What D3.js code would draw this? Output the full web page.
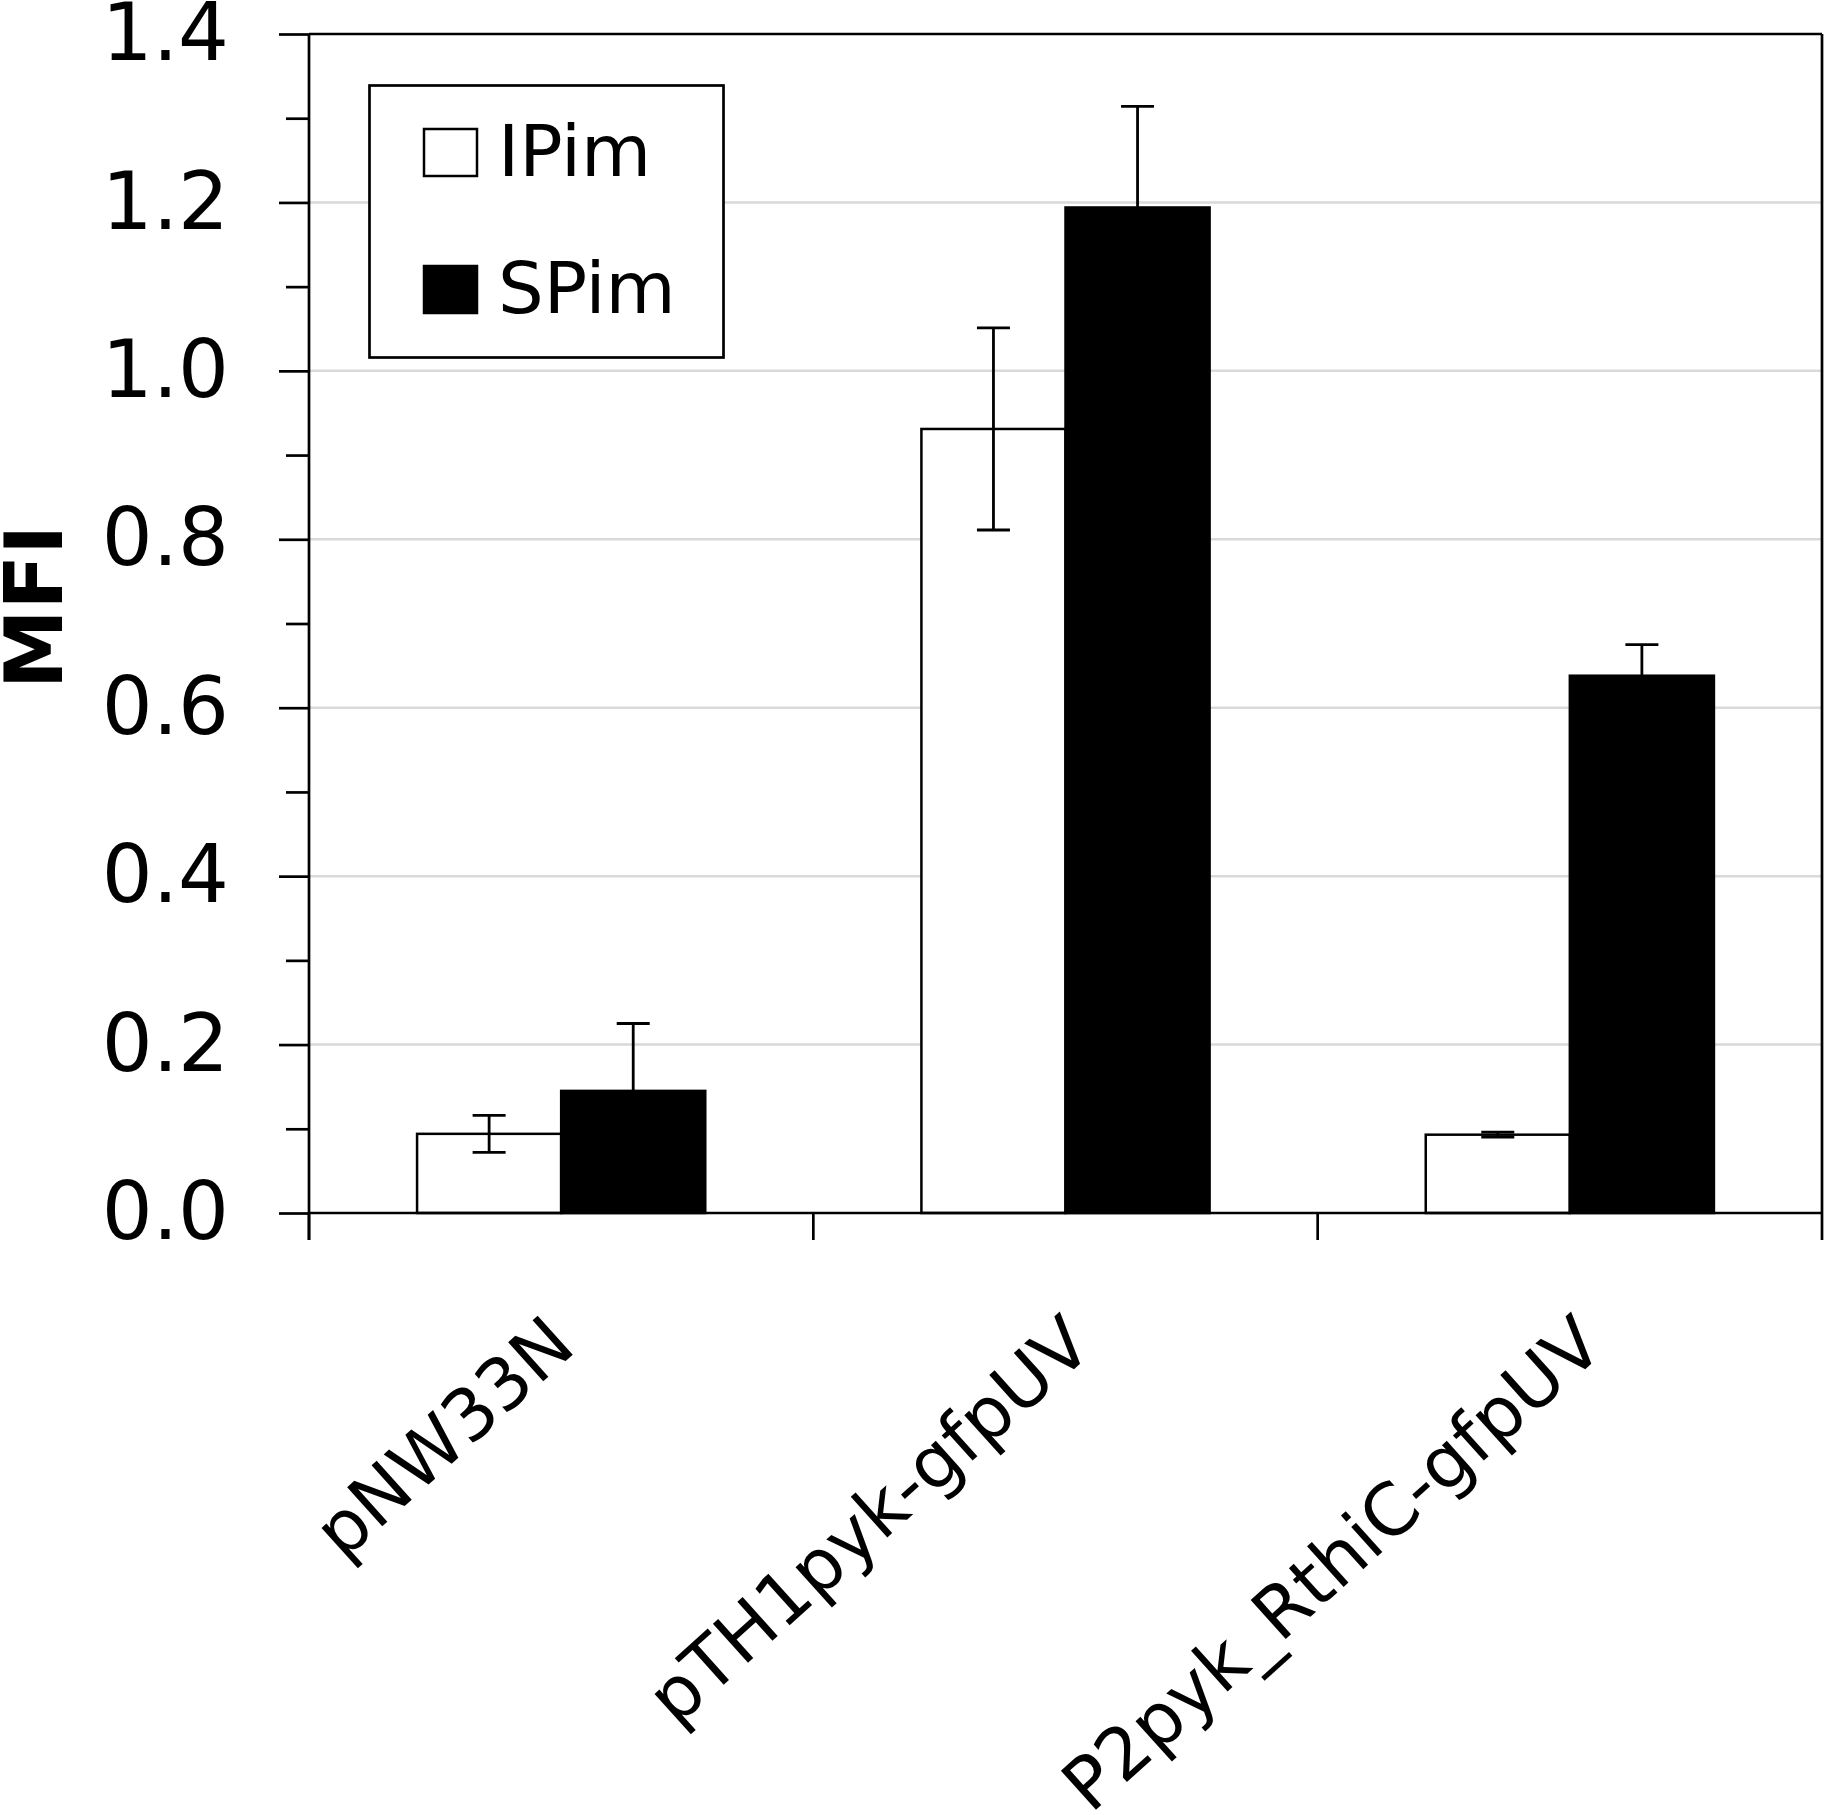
<!DOCTYPE html>
<html>
<head>
<meta charset="utf-8">
<script src="https://cdn.jsdelivr.net/npm/d3@7/dist/d3.min.js"></script>
<style>
  html, body { margin: 0; padding: 0; background: #fff; }
  svg { display: block; }
</style>
</head>
<body>
<svg id="chart" width="1826" height="1815"></svg>
<script>
// ---- data ----
const categories = ["pNW33N", "pTH1pyk-gfpUV", "P2pyk_RthiC-gfpUV"];
const seriesNames = ["IPim", "SPim"];
const ipimValues = [0.094, 0.931, 0.093];
const ipimErrors = [0.022, 0.120, 0.003];
const spimValues = [0.145, 1.194, 0.638];
const spimErrors = [0.080, 0.120, 0.037];
const majorTicks = [0.0, 0.2, 0.4, 0.6, 0.8, 1.0, 1.2, 1.4];
const minorTicks = [0.1, 0.3, 0.5, 0.7, 0.9, 1.1, 1.3];
const yLabel = "MFI";

const seriesFill = { IPim: "#ffffff", SPim: "#000000" };
const FONT = "DejaVu Sans, Verdana, sans-serif";

const rows = [];
categories.forEach((c, i) => {
  rows.push({ cat: c, series: "IPim", value: ipimValues[i], err: ipimErrors[i] });
  rows.push({ cat: c, series: "SPim", value: spimValues[i], err: spimErrors[i] });
});

const svg = d3.select("#chart");
svg.append("rect").attr("width", 1826).attr("height", 1815).attr("fill", "#fff");

const pL = 309, pR = 1822, pT = 34, pB = 1213;

const y = d3.scaleLinear().domain([0, 1.4]).range([pB, pT]);
const x0 = d3.scaleBand().domain(categories).range([pL, pR]).paddingInner(0).paddingOuter(0);
const band = x0.bandwidth();
const barW = band / 3.5;
const off = (band - 2 * barW) / 2;
const x1 = d3.scaleBand().domain(seriesNames).range([off, off + 2 * barW]).padding(0);

// gridlines
svg.append("g").selectAll("line")
  .data(majorTicks.filter(t => t > 0 && t < 1.4))
  .join("line")
  .attr("x1", pL).attr("x2", pR)
  .attr("y1", d => y(d)).attr("y2", d => y(d))
  .attr("stroke", "#d9d9d9").attr("stroke-width", 2.5);

// plot border (top & right)
svg.append("line").attr("x1", pL).attr("x2", pR).attr("y1", pT).attr("y2", pT)
  .attr("stroke", "#000").attr("stroke-width", 2.7);
svg.append("line").attr("x1", pR).attr("x2", pR).attr("y1", pT).attr("y2", pB)
  .attr("stroke", "#000").attr("stroke-width", 2.7);

// bars
svg.append("g").selectAll("rect")
  .data(rows)
  .join("rect")
  .attr("x", d => x0(d.cat) + x1(d.series))
  .attr("width", x1.bandwidth())
  .attr("y", d => y(d.value))
  .attr("height", d => y(0) - y(d.value))
  .attr("fill", d => seriesFill[d.series])
  .attr("stroke", "#000").attr("stroke-width", 2.5);

// error bars
const capW = 33;
const eg = svg.append("g").attr("stroke", "#000").attr("stroke-width", 2.8);
rows.forEach(d => {
  const cx = x0(d.cat) + x1(d.series) + x1.bandwidth() / 2;
  const yt = y(d.value + d.err), yb = y(d.value - d.err);
  eg.append("line").attr("x1", cx).attr("x2", cx).attr("y1", yt).attr("y2", yb);
  eg.append("line").attr("x1", cx - capW / 2).attr("x2", cx + capW / 2).attr("y1", yt).attr("y2", yt);
  eg.append("line").attr("x1", cx - capW / 2).attr("x2", cx + capW / 2).attr("y1", yb).attr("y2", yb);
});

// y axis
const yAxis = d3.axisLeft(y).tickValues(majorTicks).tickSize(30).tickPadding(50)
  .tickFormat(d3.format(".1f"));
const gy = svg.append("g").attr("transform", `translate(${pL},0)`).call(yAxis);
gy.select(".domain").remove();
gy.selectAll(".tick line").attr("stroke", "#000").attr("stroke-width", 2.7);
gy.selectAll(".tick text").attr("font-family", FONT).attr("font-size", 80).attr("fill", "#000");

const yMinor = d3.axisLeft(y).tickValues(minorTicks).tickSize(23).tickFormat("");
const gym = svg.append("g").attr("transform", `translate(${pL},0)`).call(yMinor);
gym.select(".domain").remove();
gym.selectAll(".tick line").attr("stroke", "#000").attr("stroke-width", 2.7);

svg.append("line").attr("x1", pL).attr("x2", pL).attr("y1", pT).attr("y2", pB + 27)
  .attr("stroke", "#000").attr("stroke-width", 2.7);

// x axis
svg.append("line").attr("x1", pL).attr("x2", pR).attr("y1", pB).attr("y2", pB)
  .attr("stroke", "#000").attr("stroke-width", 2.7);
const boundaries = categories.map(c => x0(c)).concat([x0.range()[1]]);
svg.append("g").selectAll("line").data(boundaries).join("line")
  .attr("x1", d => d).attr("x2", d => d)
  .attr("y1", pB).attr("y2", pB + 27)
  .attr("stroke", "#000").attr("stroke-width", 2.7);

const xLabels = svg.append("g").selectAll("text").data(categories).join("text")
  .attr("text-anchor", "end")
  .attr("font-family", FONT).attr("font-size", 72).attr("fill", "#000")
  .text(d => d);
xLabels.attr("transform", function (d) {
  const len = this.getComputedTextLength();
  return `translate(${x0(d) + band / 2 + 0.053 * len},${1350}) rotate(-42)`;
});

// y label
svg.append("text")
  .attr("transform", "translate(62,607) rotate(-90)")
  .attr("text-anchor", "middle")
  .attr("font-family", FONT).attr("font-weight", "bold").attr("font-size", 80)
  .text(yLabel);

// legend
const lg = svg.append("g");
lg.append("rect").attr("x", 369.5).attr("y", 85.5).attr("width", 354).attr("height", 272)
  .attr("fill", "#fff").attr("stroke", "#000").attr("stroke-width", 2.7);
const legendRowY = d3.scalePoint().domain(seriesNames).range([176, 313]);
seriesNames.forEach(s => {
  lg.append("rect").attr("x", 424).attr("y", legendRowY(s) - 47).attr("width", 53).attr("height", 47)
    .attr("fill", seriesFill[s]).attr("stroke", "#000").attr("stroke-width", 2.5);
  lg.append("text").attr("x", 498).attr("y", legendRowY(s))
    .attr("font-family", FONT).attr("font-size", 72).attr("fill", "#000").text(s);
});
</script>
</body>
</html>
